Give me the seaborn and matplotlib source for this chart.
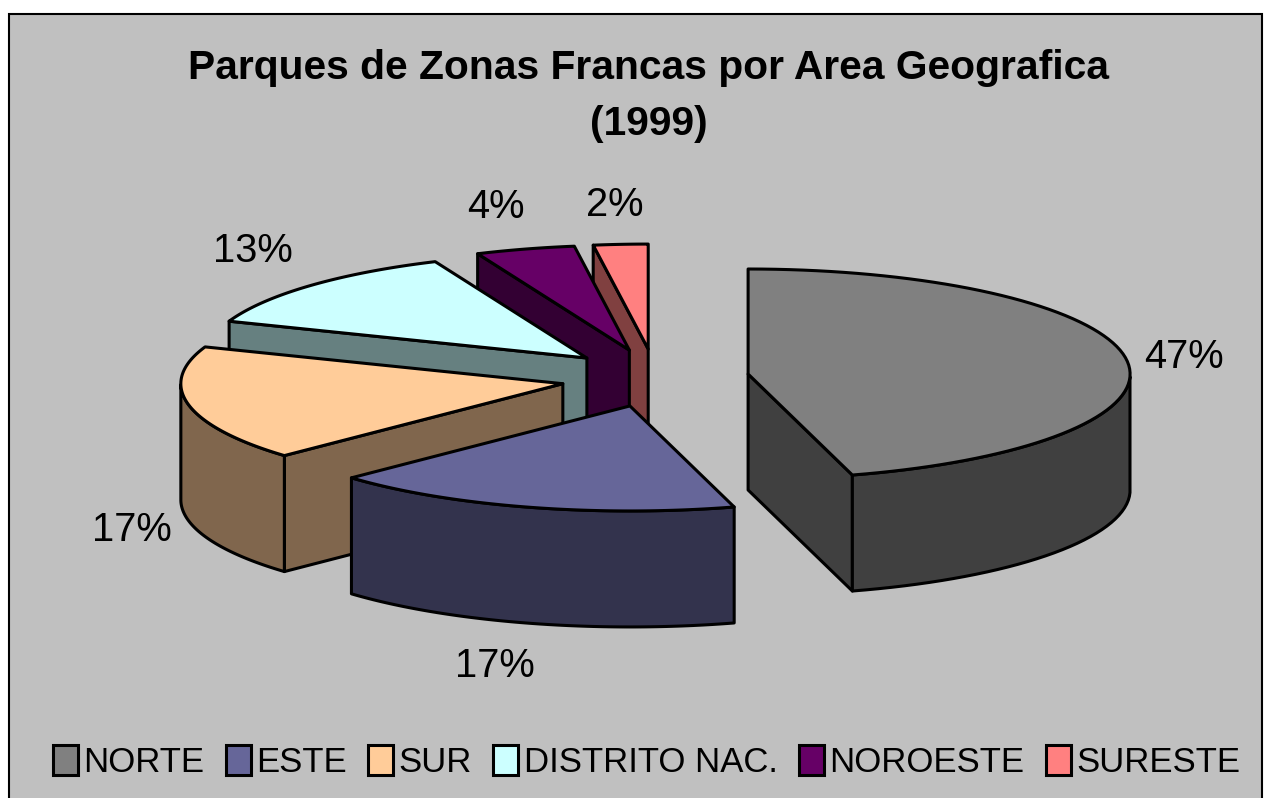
import numpy as np
import matplotlib.pyplot as plt
import seaborn as sns
from matplotlib.patches import Patch, Polygon, Rectangle

# Slice data
zonas = ['NORTE', 'ESTE', 'SUR', 'DISTRITO NAC.', 'NOROESTE', 'SURESTE']
shares = [45.6, 17.4, 17.7, 12.8, 4.2, 2.3]
pct_labels = ['47%', '17%', '17%', '13%', '4%', '2%']
colores = ['#808080', '#666699', '#FFCC99', '#CCFFFF', '#660066', '#FF8080']

# Pie geometry in pixels
CX, CY = 655, 378
RX, RY = 382, 105
EX, EY = 94, 29
DEPTH = 116

# Where each percent label sits
label_pos = {'NORTE': (1184, 357), 'ESTE': (495, 666), 'SUR': (132, 530),
             'DISTRITO NAC.': (253, 251), 'NOROESTE': (496, 207), 'SURESTE': (615, 205)}

sns.set_style('white')
plt.rcParams['font.family'] = ['Liberation Sans', 'DejaVu Sans']

fig = plt.figure(figsize=(12.74, 7.98), dpi=100, facecolor='white')
ax = fig.add_axes([0, 0, 1, 1])
ax.set_xlim(0, 1274)
ax.set_ylim(798, 0)
ax.axis('off')

# Chart area
ax.add_patch(Rectangle((8.5, 13.5), 1253, 800, fc='#C0C0C0', ec='black', lw=1.5, zorder=0))

edges = np.concatenate([[0], np.cumsum(shares)]) / np.sum(shares) * 2 * np.pi


def oval(th):
    return RX * np.sin(th), -RY * np.cos(th)


def draw_slice(i, z):
    a, b = edges[i], edges[i + 1]
    mid = (a + b) / 2
    ox = CX + EX * np.sin(mid)
    oy = CY - EY * np.cos(mid)
    th = np.linspace(a, b, 80)
    dx, dy = oval(th)
    px, py = ox + dx, oy + dy
    top = colores[i]
    rgb = np.array(sns.color_palette([top])[0]) * 0.5

    kw = dict(ec='black', lw=2.2, joinstyle='round', zorder=z)
    # radial walls, only those facing the viewer
    for t, sign in ((a, -1), (b, 1)):
        if np.cos(t + sign * np.pi / 2) < -1e-6:
            ex, ey = oval(t)
            wall = [(ox, oy), (ox + ex, oy + ey), (ox + ex, oy + ey + DEPTH), (ox, oy + DEPTH)]
            ax.add_patch(Polygon(wall, fc=rgb, **kw))
    # outer wall on the front half
    front = np.cos(th) <= 0
    if front.any():
        fx, fy = px[front], py[front]
        wall = np.r_[np.c_[fx, fy], np.c_[fx[::-1], fy[::-1] + DEPTH]]
        ax.add_patch(Polygon(wall, fc=rgb, **kw))
    # top face
    ax.add_patch(Polygon(np.r_[[[ox, oy]], np.c_[px, py]], fc=top, **kw))


# back slices first, Este goes last because it covers the others
for z, i in enumerate([5, 4, 3, 2, 0, 1]):
    draw_slice(i, 2 + z)

for zona, lab in zip(zonas, pct_labels):
    x, y = label_pos[zona]
    ax.text(x, y, lab, fontsize=28.7, ha='center', va='center', color='black', zorder=20)

ax.text(649, 68, 'Parques de Zonas Francas por Area Geografica', fontsize=29.3, color='black',
        fontweight='bold', ha='center', va='center', zorder=20)
ax.text(649, 124, '(1999)', fontsize=29.3, color='black', fontweight='bold',
        ha='center', va='center', zorder=20)

handles = [Patch(fc=c, ec='black', lw=2.2) for c in colores]
ax.legend(handles, zonas, ncol=6, loc='center', bbox_to_anchor=(646.5, 762),
          bbox_transform=ax.transData, frameon=False, fontsize=25,
          handlelength=0.72, handleheight=0.95, handletextpad=0.15, columnspacing=0.62,
          borderpad=0, labelcolor='black')

fig.savefig('out.png', dpi=100)
